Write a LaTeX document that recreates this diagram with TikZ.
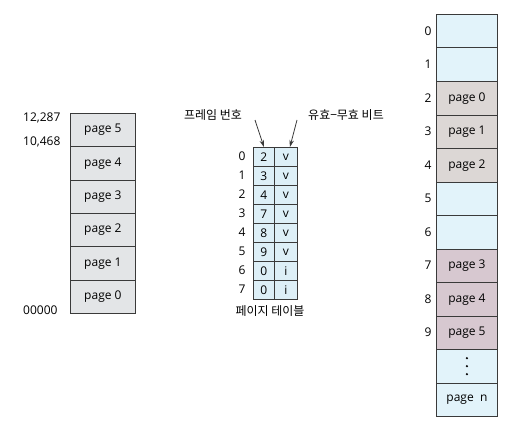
\documentclass[tikz,border=0pt]{standalone}
\usepackage{fontspec}
\setmainfont{Open Sans}
\newfontfamily\kr{Noto Sans CJK KR}
\usetikzlibrary{arrows.meta}
\definecolor{linec}{HTML}{3A3A3A}
\definecolor{logc}{HTML}{E3E5E7}
\definecolor{ptc}{HTML}{DDEFF7}
\definecolor{freec}{HTML}{E2F3FA}
\definecolor{pgA}{HTML}{DCD7D5}
\definecolor{pgB}{HTML}{D7C8D0}
\tikzset{
  box/.style={draw=linec, line width=0.8pt, inner sep=0pt, anchor=north west, font=\fontsize{12}{14}\selectfont},
  logbox/.style={box, fill=logc, minimum width=65pt, minimum height=33.3pt},
  ptbox/.style={box, fill=ptc, minimum height=19pt},
  frbox/.style={box, minimum width=61pt, minimum height=33.5pt},
  lab/.style={font=\fontsize{12}{14}\selectfont, inner sep=0pt},
  krlab/.style={font=\kr\fontsize{12}{14}\selectfont, inner sep=0pt},
  arr/.style={-{Stealth[length=7pt,width=4.5pt]}, line width=0.8pt, draw=linec}
}
\begin{document}
\begin{tikzpicture}[x=1pt,y=-1pt]
\useasboundingbox (0,0) rectangle (510,425);
% logical memory
\foreach \i/\n in {0/5,1/4,2/3,3/2,4/1,5/0}{
  \node[logbox] (L\n) at (70,113+\i*33.3) {page \n};
}
\node[lab, anchor=west] (a1) at (23,118) {12,287};
\node[lab, anchor=west] (a2) at (23,142) {10,468};
\node[lab, anchor=west] (a3) at (23,310) {00000};
% page table
\foreach \r/\f/\b in {0/2/v,1/3/v,2/4/v,3/7/v,4/8/v,5/9/v,6/0/i,7/0/i}{
  \node[ptbox, minimum width=21pt] (F\r) at (253,147+\r*19) {\f};
  \node[ptbox, minimum width=23pt] (B\r) at (274,147+\r*19) {\b};
  \node[lab] (R\r) at (242,156.5+\r*19) {\r};
}
\node[krlab] (pt) at (270,311) {페이지 테이블};
\node[krlab] (fl) at (213,115) {프레임 번호};
\node[krlab] (bl) at (346,115) {유효−무효 비트};
\coordinate (fs) at (255,120);
\coordinate (bs) at (297,120);
\draw[arr] (fs) -- (F0.north);
\draw[arr] (bs) -- ([xshift=4pt]B0.north);
% physical memory
\foreach \i/\t/\c in {0//freec,1//freec,2/page 0/pgA,3/page 1/pgA,4/page 2/pgA,5//freec,6//freec,7/page 3/pgB,8/page 4/pgB,9/page 5/pgB}{
  \node[frbox, fill=\c] (P\i) at (436,14+\i*33.5) {\t};
  \node[lab] (N\i) at (428,31+\i*33.5) {\i};
}
\node[frbox, fill=freec] (Pd) at (436,14+10*33.5) {};
\node[frbox, fill=freec] (Pn) at (436,14+11*33.5) {page\ \ n};
\foreach \k in {-8,0,8}{
  \fill (Pd.center) ++(0,\k) circle (1.2pt);
}
\end{tikzpicture}
\end{document}
